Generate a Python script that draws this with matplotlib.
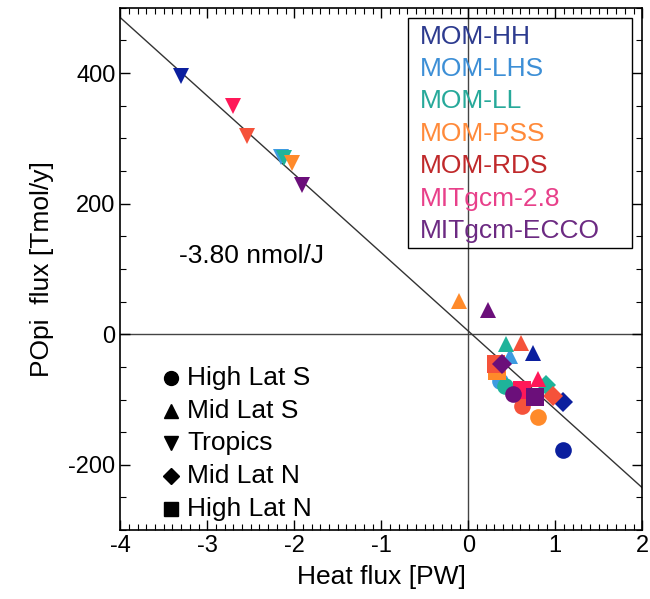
import matplotlib
matplotlib.use("Agg")
import matplotlib.pyplot as plt
from matplotlib.patches import Rectangle
from matplotlib.ticker import MultipleLocator
import numpy as np

plt.rcParams['font.family'] = ['Liberation Sans', 'DejaVu Sans']
plt.rcParams['axes.unicode_minus'] = False

models = ["MOM-HH", "MOM-LHS", "MOM-LL", "MOM-PSS", "MOM-RDS", "MITgcm-2.8", "MITgcm-ECCO"]
point_colors = ["#0b1f9e", "#3d9be0", "#1fb39a", "#ff8a2a", "#f5523a", "#ff1858", "#6b0f7a"]
text_colors = ["#2d3b8f", "#3d8fd6", "#27a99a", "#ff8a3a", "#c0292b", "#e8408a", "#6c2a82"]

regions = ["High Lat S", "Mid Lat S", "Tropics", "Mid Lat N", "High Lat N"]
region_markers = ["o", "^", "v", "D", "s"]

# heat flux [PW] and POpi flux [Tmol/y], per model, per region (None = not shown)
heat = {
    "MOM-HH":      [1.09, 0.74, -3.30, 1.09, None],
    "MOM-LHS":     [0.37, 0.48, -2.15, None, None],
    "MOM-LL":      [0.42, 0.43, -2.12, 0.89, None],
    "MOM-PSS":     [0.80, -0.11, -2.02, None, 0.33],
    "MOM-RDS":     [0.62, 0.61, -2.54, 0.98, 0.32],
    "MITgcm-2.8":  [None, 0.80, -2.70, None, 0.62],
    "MITgcm-ECCO": [0.51, 0.23, -1.91, 0.39, 0.77],
}
popi = {
    "MOM-HH":      [-177, -28, 395, -104, None],
    "MOM-LHS":     [-72, -33, 272, None, None],
    "MOM-LL":      [-80, -15, 270, -77, None],
    "MOM-PSS":     [-127, 51, 262, None, -57],
    "MOM-RDS":     [-110, -14, 303, -94, -45],
    "MITgcm-2.8":  [None, -68, 349, None, -85],
    "MITgcm-ECCO": [-92, 37, 229, -46, -96],
}

fit_slope = -120.0   # Tmol/y per PW
fit_intercept = 5.0
fit_label = "-3.80 nmol/J"

fig = plt.figure(figsize=(6.5, 5.99), dpi=100)
ax = fig.add_axes([0.185, 0.115, 0.803, 0.872])

ax.set_xlim(-4, 2)
ax.set_ylim(-300, 500)

ax.axhline(0, color="#444444", lw=1.0, zorder=1)
ax.axvline(0, color="#444444", lw=1.0, zorder=1)
xs = np.array([-4.2, 2.2])
ax.plot(xs, fit_slope * xs + fit_intercept, color="#333333", lw=1.0, zorder=2)

sizes = {"o": 12, "^": 12, "v": 12, "D": 10, "s": 13}
for m, c in zip(models, point_colors):
    for i, mk in enumerate(region_markers):
        xv, yv = heat[m][i], popi[m][i]
        if xv is None:
            continue
        ax.plot(xv, yv, marker=mk, color=c, markersize=sizes[mk], linestyle="none",
                markeredgewidth=0, zorder=3)

ax.text(-3.32, 120, fit_label, fontsize=19, va="center", ha="left")

# model legend box
ax.add_patch(Rectangle((0.552, 0.540), 0.429, 0.441, transform=ax.transAxes,
                       fill=False, edgecolor="black", lw=1.0, zorder=5))
for k, (m, tc) in enumerate(zip(models, text_colors)):
    ax.text(0.575, 0.945 - k * 0.0622, m, color=tc, fontsize=19,
            transform=ax.transAxes, va="center", ha="left", zorder=6)

# region legend
leg_sizes = {"o": 10, "^": 10, "v": 10, "D": 8, "s": 10}
for k, (r, mk) in enumerate(zip(regions, region_markers)):
    yy = 0.291 - k * 0.0625
    ax.plot([0.098], [yy], marker=mk, color="black", markersize=leg_sizes[mk],
            transform=ax.transAxes, linestyle="none", clip_on=False)
    ax.text(0.128, yy, r, fontsize=19, transform=ax.transAxes,
            va="center", ha="left")

ax.xaxis.set_major_locator(MultipleLocator(1))
ax.xaxis.set_minor_locator(MultipleLocator(0.1))
ax.yaxis.set_major_locator(MultipleLocator(200))
ax.yaxis.set_minor_locator(MultipleLocator(50))
ax.tick_params(which="both", direction="in", top=True, right=True, labelsize=17)
ax.tick_params(which="major", length=7, width=1.0)
ax.tick_params(which="minor", length=4, width=0.8)
for s in ax.spines.values():
    s.set_linewidth(1.2)

ax.set_xlabel("Heat flux [PW]", fontsize=19, labelpad=6)
ax.set_ylabel("POpi  flux [Tmol/y]", fontsize=19, labelpad=10)

fig.savefig("out.png", dpi=100)
